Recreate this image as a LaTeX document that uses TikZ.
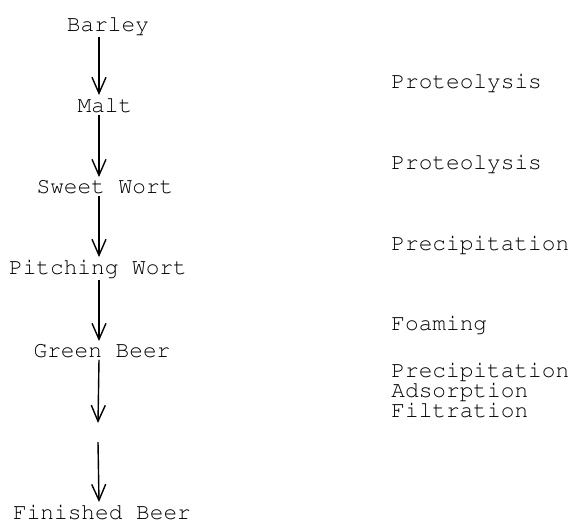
\documentclass[tikz,border=0pt]{standalone}
\usepackage[T1]{fontenc}
\usepackage{courier}
\usetikzlibrary{arrows.meta}
\begin{document}
\begin{tikzpicture}[x=0.5pt,y=-0.5pt,
    every node/.style={font=\fontsize{11.4}{10}\ttfamily,inner sep=1pt},
    flow/.style={draw,line width=0.7pt,-{Straight Barb[length=8pt,width=7pt]}}]
        \useasboundingbox (0,0) rectangle (569,521);
        %% Stages
        \node[anchor=base] (barley)   at (108,31)  {Barley};
        \node[anchor=base] (malt)     at (105,112) {Malt};
        \node[anchor=base] (sweet)    at (105,193) {Sweet Wort};
        \node[anchor=base] (pitching) at (98,274)  {Pitching Wort};
        \node[anchor=base] (green)    at (102,357) {Green Beer};
        \node[anchor=base] (finished) at (102,519) {Finished Beer};
        %% Processes
        \node[anchor=base west] (prot1)   at (389,88)  {Proteolysis};
        \node[anchor=base west] (prot2)   at (389,169) {Proteolysis};
        \node[anchor=base west] (precip1) at (389,250) {Precipitation};
        \node[anchor=base west] (foam)    at (389,330) {Foaming};
        \node[anchor=base west] (precip2) at (389,377) {Precipitation};
        \node[anchor=base west] (adsorp)  at (389,397) {Adsorption};
        \node[anchor=base west] (filtr)   at (389,417) {Filtration};
        %% Arrows
        \coordinate (spine) at (99,0);
        \coordinate (gapA) at (98,423);
        \coordinate (gapB) at (98,442);
        \draw[flow] (barley.south -| spine) -- (malt.north -| spine);
        \draw[flow] (malt.south -| spine) -- (sweet.north -| spine);
        \draw[flow] (sweet.south -| spine) -- (pitching.north -| spine);
        \draw[flow] (pitching.south -| spine) -- (green.north -| spine);
        \draw[flow] (green.south -| spine) -- (gapA);
        \draw[flow] (gapB) -- (finished.north -| spine);
\end{tikzpicture}
\end{document}
